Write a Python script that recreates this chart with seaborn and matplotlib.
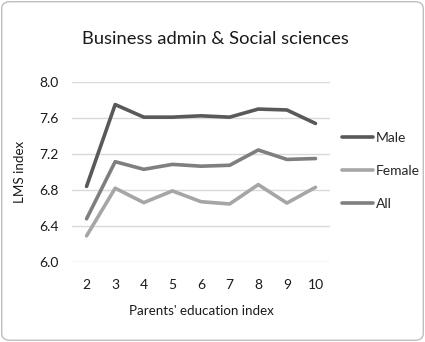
import matplotlib
matplotlib.use("Agg")
import matplotlib.pyplot as plt
import seaborn as sns
import pandas as pd
from matplotlib.patches import FancyBboxPatch

parents_edu = [2, 3, 4, 5, 6, 7, 8, 9, 10]
male = [6.84, 7.75, 7.61, 7.61, 7.625, 7.61, 7.70, 7.69, 7.54]
female = [6.29, 6.82, 6.66, 6.79, 6.67, 6.645, 6.86, 6.655, 6.83]
all_ = [6.48, 7.115, 7.03, 7.085, 7.065, 7.075, 7.245, 7.14, 7.15]
series = ["Male", "Female", "All"]
colors = {"Male": "#595959", "Female": "#A6A6A6", "All": "#7F7F7F"}
yticks = [6.0, 6.4, 6.8, 7.2, 7.6, 8.0]

rows = []
for name, vals in zip(series, [male, female, all_]):
    for x, v in zip(parents_edu, vals):
        rows.append({"edu": x, "value": v, "series": name})
df = pd.DataFrame(rows)

sns.set_theme(style="white")
plt.rcParams["font.family"] = ["Lato", "DejaVu Sans"]

fig = plt.figure(figsize=(4.25, 3.42), dpi=100)
ax = fig.add_axes([0.17, 0.234, 0.606, 0.526])

sns.lineplot(data=df, x="edu", y="value", hue="series", hue_order=series,
             palette=colors, linewidth=2.6, ax=ax, legend=True)

ax.set_xlim(1.5, 10.5)
ax.set_ylim(6.0, 8.0)
ax.set_yticks(yticks)
ax.set_yticklabels([f"{t:.1f}" for t in yticks], fontsize=10, color="#1a1a1a")
ax.set_xticks(parents_edu)
ax.set_xticklabels([str(x) for x in parents_edu], fontsize=10, color="#1a1a1a")
ax.tick_params(axis="both", length=0, pad=10)
ax.tick_params(axis="x", pad=12)
ax.yaxis.grid(True, color="#D9D9D9", linewidth=1.0)
ax.set_axisbelow(True)
for s in ax.spines.values():
    s.set_visible(False)

ax.set_xlabel("Parents' education index", fontsize=9.6, color="#1a1a1a", labelpad=10)
ax.set_ylabel("LMS index", fontsize=9.6, color="#1a1a1a", labelpad=9)
fig.text(0.506, 0.871, "Business admin & Social sciences", fontsize=13.2, color="#1a1a1a",
         ha="center", va="baseline")

handles, labels = ax.get_legend_handles_labels()
leg = ax.legend(handles, labels, loc="upper left", bbox_to_anchor=(1.0, 0.79),
                frameon=False, fontsize=10, handlelength=2.2, labelspacing=1.5,
                handletextpad=0.2)
for line in leg.get_lines():
    line.set_linewidth(2.6)

border = FancyBboxPatch((0.004, 0.005), 0.992, 0.99, boxstyle="round,pad=0,rounding_size=0.02",
                        transform=fig.transFigure, fill=False, edgecolor="#BFBFBF", linewidth=1.0)
fig.patches.append(border)

fig.savefig("out.png", dpi=100)
